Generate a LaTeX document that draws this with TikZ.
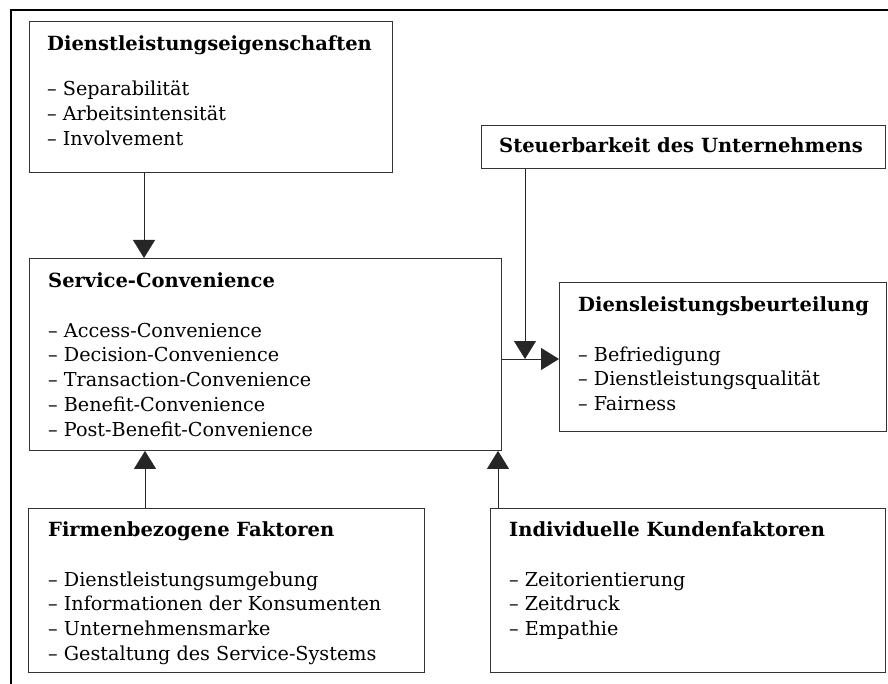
\documentclass[tikz,border=0pt]{standalone}
\usepackage{fontspec}
\setmainfont{DejaVu Serif}
\usetikzlibrary{arrows.meta}
\tikzset{
  box/.style={draw=black!80, line width=0.9pt, fill=white, anchor=north west, inner sep=0pt},
  txt/.style={anchor=base west, inner sep=0pt},
  arr/.style={draw=black!85, line width=0.9pt, -{Triangle[length=18pt,width=22pt]}},
  frame/.style={draw=black, line width=1.2pt}
}
\newcommand{\boxtext}[3]{\parbox[t]{400pt}{\fontsize{19.2}{24.8}\selectfont\raggedright{\bfseries\fontsize{19.5}{24.8}\selectfont #1}\\[#2]#3}}
\begin{document}
\begin{tikzpicture}[x=1pt,y=-1pt]
\useasboundingbox (0,0) rectangle (888,684);
\draw[frame] (11,10) rectangle (900,700);
% boxes
\node[box, minimum width=363pt, minimum height=151pt] (eig) at (29,21) {};
\node[box, minimum width=472pt, minimum height=192pt] (svc) at (29,258) {};
\node[box, minimum width=404pt, minimum height=43pt] (st) at (481,125) {};
\node[box, minimum width=327pt, minimum height=149pt] (beur) at (559,282) {};
\node[box, minimum width=396pt, minimum height=164pt] (firm) at (28,508) {};
\node[box, minimum width=395pt, minimum height=164pt] (ind) at (490,508) {};
% texts
\node[txt] (teig) at (47,51) {\boxtext{Dienstleistungseigenschaften}{20.2pt}{– Separabilität\\– Arbeitsintensität\\– Involvement}};
\node[txt] (tsvc) at (48,287.5) {\boxtext{Service-Convenience}{24.8pt}{– Access-Convenience\\– Decision-Convenience\\– Transaction-Convenience\\– Benefit-Convenience\\– Post-Benefit-Convenience}};
\node[txt] (tst) at (499,153) {\fontsize{19.5}{24.8}\selectfont\bfseries Steuerbarkeit des Unternehmens};
\node[txt] (tbeur) at (578,311.5) {\boxtext{Diensleistungsbeurteilung}{24.8pt}{– Befriedigung\\– Dienstleistungsqualität\\– Fairness}};
\node[txt] (tfirm) at (48,536.5) {\boxtext{Firmenbezogene Faktoren}{24.8pt}{– Dienstleistungsumgebung\\– Informationen der Konsumenten\\– Unternehmensmarke\\– Gestaltung des Service-Systems}};
\node[txt] (tind) at (509,536.5) {\boxtext{Individuelle Kundenfaktoren}{24.8pt}{– Zeitorientierung\\– Zeitdruck\\– Empathie}};
% connector helpers
\coordinate (xa) at (144,0);
\coordinate (xst) at (525,0);
\coordinate (yh) at (0,359);
\coordinate (xf) at (145,0);
\coordinate (xi) at (498,0);
% connectors
\draw[arr] (eig.south -| xa) -- (svc.north -| xa);
\draw[arr] (svc.east |- yh) -- (beur.west |- yh);
\draw[arr] (st.south -| xst) -- (xst |- yh);
\draw[arr] (firm.north -| xf) -- (svc.south -| xf);
\draw[arr] (ind.north -| xi) -- (svc.south -| xi);
\end{tikzpicture}
\end{document}
